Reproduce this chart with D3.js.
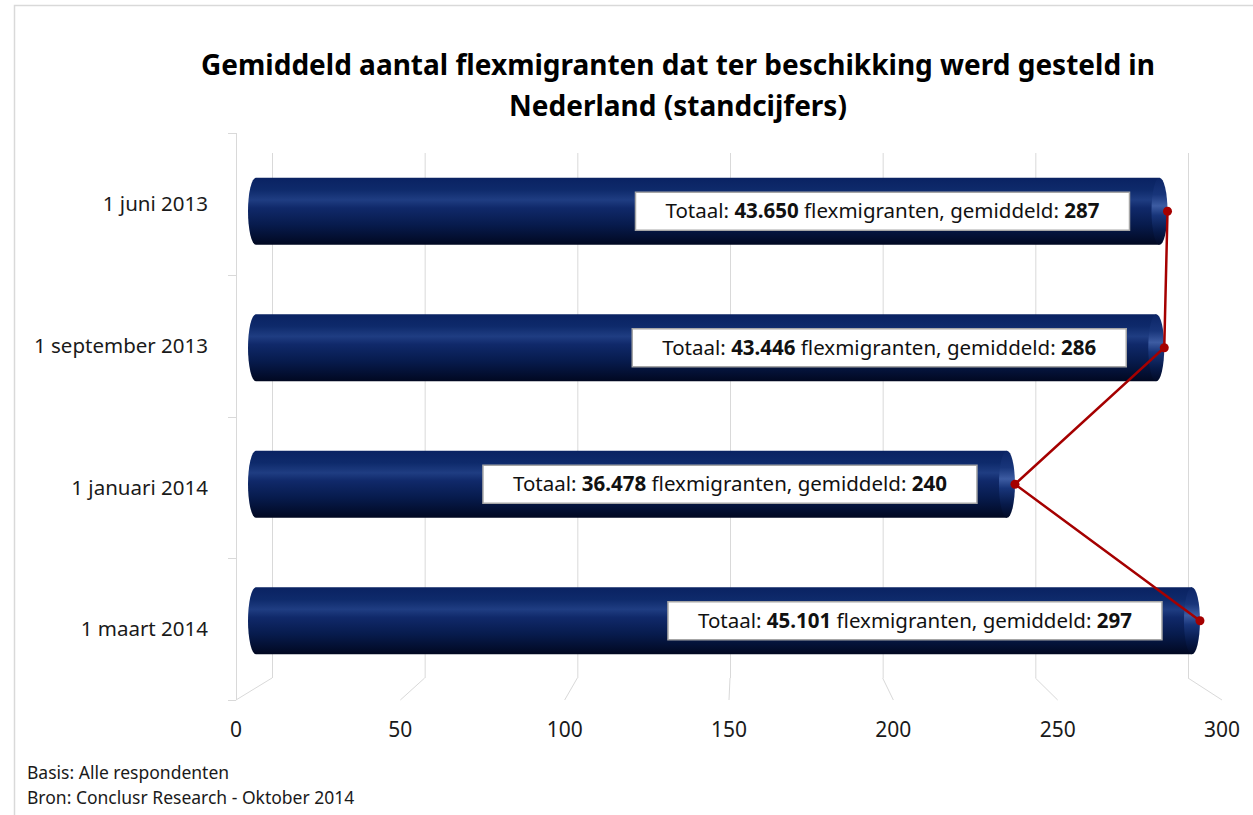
<!DOCTYPE html>
<html>
<head>
<meta charset="utf-8">
<script src="https://cdn.jsdelivr.net/npm/d3@7"></script>
<style>
  body { margin: 0; background: #fff; }
  text { font-family: "Noto Sans", sans-serif; }
</style>
</head>
<body>
<div id="mainchart"></div>
<script>
var categories = ["1 juni 2013", "1 september 2013", "1 januari 2014", "1 maart 2014"];
var gemiddeld = [287, 286, 240, 297];
var totaal = ["43.650", "43.446", "36.478", "45.101"];
var xTicks = [0, 50, 100, 150, 200, 250, 300];
var titleLines = ["Gemiddeld aantal flexmigranten dat ter beschikking werd gesteld in", "Nederland (standcijfers)"];
var footer = ["Basis: Alle respondenten", "Bron: Conclusr Research - Oktober 2014"];

var data = categories.map(function(c, i) {
    return {cat: c, avg: gemiddeld[i], tot: totaal[i]};
});

drawChart(data);

function drawChart(data){
    var width = 1253, height = 815, grid = '#d9d9d9';

    var svg = d3.select("#mainchart").append("svg")
        .attr("width", width)
        .attr("height", height);

    // chart border (only top and left show in the frame)
    svg.append("path")
        .attr("d", "M14.5,815 L14.5,5.5 L1253,5.5")
        .attr("fill", "none").attr("stroke", grid).attr("stroke-width", 1.5);

    // 3d-ish scales: back wall, front edge, and the bars in between
    var xBack = d3.scaleLinear().domain([0, 300]).range([272, 1188]);
    var xFront = d3.scaleLinear().domain([0, 300]).range([236, 1222]);
    var xBar = d3.scaleLinear().domain([0, 300]).range([236, 1209.7]);

    var yFront = d3.scaleBand().domain(categories).range([133, 700]);
    var yBar = d3.scaleBand().domain(categories).range([143, 689]).paddingInner(0.5).paddingOuter(0.25);

    var wallTop = 153, wallBottom = 678, floorFront = 700;

    // back wall gridlines
    svg.selectAll("line.grid").data(xTicks).enter().append("line")
        .attr("class", "grid")
        .attr("x1", d => xBack(d) + 0.5).attr("x2", d => xBack(d) + 0.5)
        .attr("y1", wallTop).attr("y2", wallBottom)
        .attr("stroke", grid);

    // floor lines
    svg.selectAll("line.floor").data(xTicks).enter().append("line")
        .attr("class", "floor")
        .attr("x1", d => xBack(d)).attr("y1", wallBottom)
        .attr("x2", d => xFront(d)).attr("y2", floorFront)
        .attr("stroke", grid);

    // left axis line + ticks
    svg.append("line")
        .attr("x1", 236.5).attr("x2", 236.5).attr("y1", 133).attr("y2", floorFront)
        .attr("stroke", grid);
    var bounds = categories.map(c => yFront(c)).concat([yFront.range()[1]]);
    svg.selectAll("line.ytick").data(bounds).enter().append("line")
        .attr("class", "ytick")
        .attr("x1", 228).attr("x2", 236)
        .attr("y1", d => Math.round(d) + 0.5).attr("y2", d => Math.round(d) + 0.5)
        .attr("stroke", grid);

    // category labels
    svg.selectAll("text.cat").data(data).enter().append("text")
        .attr("class", "cat")
        .attr("x", 208)
        .attr("y", d => yFront(d.cat) + yFront.bandwidth() / 2)
        .attr("dy", "0.35em")
        .attr("text-anchor", "end")
        .attr("font-size", 20.5)
        .attr("fill", "#1a1a1a")
        .text(d => d.cat);

    // x tick labels
    svg.selectAll("text.xt").data(xTicks).enter().append("text")
        .attr("class", "xt")
        .attr("x", d => xFront(d))
        .attr("y", 737)
        .attr("text-anchor", "middle")
        .attr("font-size", 21)
        .attr("fill", "#1a1a1a")
        .text(d => d);

    // gradients for cylinders
    var defs = svg.append("defs");
    var body = defs.append("linearGradient").attr("id", "cylBody")
        .attr("x1", "0%").attr("x2", "0%").attr("y1", "0%").attr("y2", "100%");
    [["0%", "#0a2262"], ["18%", "#0e2a6b"], ["33%", "#1f3d82"], ["45%", "#10296a"],
     ["70%", "#071b4d"], ["100%", "#010821"]].forEach(function(s){
        body.append("stop").attr("offset", s[0]).attr("stop-color", s[1]);
    });
    var cap = defs.append("linearGradient").attr("id", "cylCap")
        .attr("x1", "0%").attr("x2", "0%").attr("y1", "0%").attr("y2", "100%");
    [["0%", "#0c2566"], ["25%", "#18357a"], ["42%", "#3d5ca2"], ["56%", "#18357a"],
     ["80%", "#071a4a"], ["100%", "#020a26"]].forEach(function(s){
        cap.append("stop").attr("offset", s[0]).attr("stop-color", s[1]);
    });

    var rx = 8, bh = 67;
    var bars = svg.selectAll("g.bar").data(data).enter().append("g").attr("class", "bar");
    bars.append("path")
        .attr("d", function(d){
            var cy = yBar(d.cat) + yBar.bandwidth() / 2;
            var x0 = xBar(0) + 12 + rx, x1 = xBar(d.avg) - rx, ry = bh / 2;
            return "M" + x0 + "," + (cy - ry) +
                " L" + x1 + "," + (cy - ry) +
                " L" + x1 + "," + (cy + ry) +
                " L" + x0 + "," + (cy + ry) +
                " A" + rx + "," + ry + " 0 0 1 " + x0 + "," + (cy - ry) + "Z";
        })
        .attr("fill", "url(#cylBody)");
    bars.append("ellipse")
        .attr("cx", d => xBar(d.avg) - rx)
        .attr("cy", d => yBar(d.cat) + yBar.bandwidth() / 2)
        .attr("rx", rx).attr("ry", bh / 2)
        .attr("fill", "url(#cylCap)");

    // data labels
    var labels = svg.selectAll("g.lab").data(data).enter().append("g").attr("class", "lab");
    var txt = labels.append("text")
        .attr("font-size", 20.5)
        .attr("fill", "#111")
        .attr("dy", "0.35em")
        .attr("y", d => yBar(d.cat) + yBar.bandwidth() / 2);
    txt.append("tspan").text("Totaal: ");
    txt.append("tspan").attr("font-weight", "bold").text(d => d.tot);
    txt.append("tspan").text(" flexmigranten, gemiddeld: ");
    txt.append("tspan").attr("font-weight", "bold").text(d => d.avg);

    labels.each(function(d){
        var g = d3.select(this), t = g.select("text");
        var w = t.node().getComputedTextLength();
        var right = xBar(d.avg) - 38;
        var boxW = w + 60, cy = yBar(d.cat) + yBar.bandwidth() / 2;
        g.insert("rect", "text")
            .attr("x", right - boxW).attr("y", cy - 19)
            .attr("width", boxW).attr("height", 38)
            .attr("fill", "#fff").attr("stroke", "#a6a6a6").attr("stroke-width", 1.5);
        t.attr("x", right - boxW + 30);
    });

    // average line with markers
    svg.append("path")
        .datum(data)
        .attr("fill", "none")
        .attr("stroke", "#a50000")
        .attr("stroke-width", 2.5)
        .attr("d", d3.line()
            .x(d => xBar(d.avg))
            .y(d => yBar(d.cat) + yBar.bandwidth() / 2));
    svg.selectAll("circle.dot").data(data).enter().append("circle")
        .attr("class", "dot")
        .attr("cx", d => xBar(d.avg))
        .attr("cy", d => yBar(d.cat) + yBar.bandwidth() / 2)
        .attr("r", 4.5)
        .attr("fill", "#a50000");

    // title
    svg.selectAll("text.title").data(titleLines).enter().append("text")
        .attr("class", "title")
        .attr("x", 678)
        .attr("y", (d, i) => 75 + i * 41)
        .attr("text-anchor", "middle")
        .attr("font-size", 28)
        .attr("font-weight", "bold")
        .attr("fill", "#000")
        .text(d => d);

    // footer
    svg.selectAll("text.foot").data(footer).enter().append("text")
        .attr("class", "foot")
        .attr("x", 27)
        .attr("y", (d, i) => 779 + i * 25)
        .attr("font-size", 17.5)
        .attr("fill", "#1a1a1a")
        .text(d => d);
}
</script>
</body>
</html>
